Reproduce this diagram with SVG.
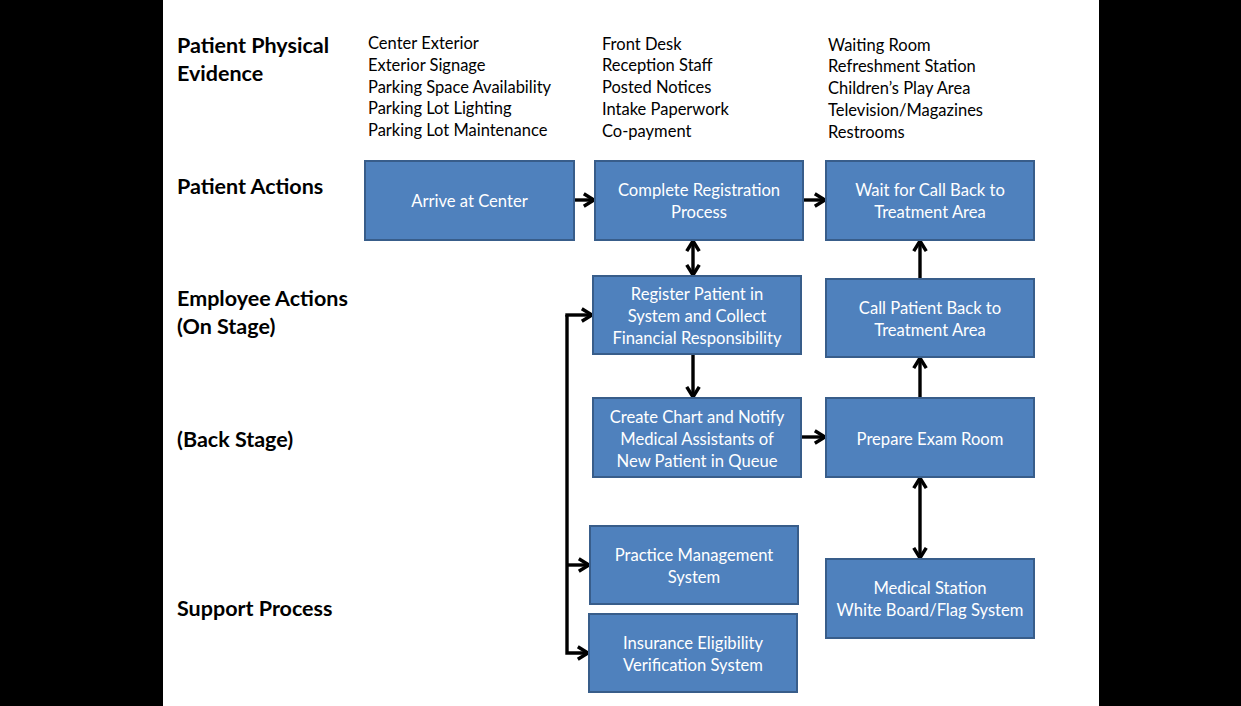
<svg xmlns="http://www.w3.org/2000/svg" width="1241" height="706" viewBox="0 0 1241 706">
<style>
.lbl{font-family:Lato,"Liberation Sans",sans-serif;font-size:21.5px;font-weight:bold;fill:#000}
.lst{font-family:Lato,"Liberation Sans",sans-serif;font-size:16.5px;fill:#000}
.box rect{fill:#4F81BD;stroke:#385D8A;stroke-width:2}
.box text{font-family:Lato,"Liberation Sans",sans-serif;font-size:16.6px;fill:#fff;text-anchor:middle}
.con path{fill:none;stroke:#000;stroke-width:3.4}
</style>
<defs>
<marker id="ah" viewBox="0 0 10 10" refX="8.5" refY="5" markerWidth="4.6" markerHeight="4.6" orient="auto-start-reverse" markerUnits="strokeWidth">
<path d="M2,1 L8.5,5 L2,9" fill="none" stroke="#000" stroke-width="2.2"/>
</marker>
</defs>
<rect x="0" y="0" width="1241" height="706" fill="#fff"/>
<rect x="0" y="0" width="163" height="706" fill="#000"/>
<rect x="1099" y="0" width="142" height="706" fill="#000"/>

<g id="row-labels">
<text class="lbl" x="177" y="53">Patient Physical</text>
<text class="lbl" x="177" y="81">Evidence</text>
<text class="lbl" x="177" y="194">Patient Actions</text>
<text class="lbl" x="177" y="306">Employee Actions</text>
<text class="lbl" x="177" y="334">(On Stage)</text>
<text class="lbl" x="177" y="447">(Back Stage)</text>
<text class="lbl" x="177" y="616">Support Process</text>
</g>

<g id="evidence-1">
<text class="lst" x="368" y="49">Center Exterior</text>
<text class="lst" x="368" y="71">Exterior Signage</text>
<text class="lst" x="368" y="92.5">Parking Space Availability</text>
<text class="lst" x="368" y="114">Parking Lot Lighting</text>
<text class="lst" x="368" y="136">Parking Lot Maintenance</text>
</g>
<g id="evidence-2">
<text class="lst" x="602" y="49.5">Front Desk</text>
<text class="lst" x="602" y="71">Reception Staff</text>
<text class="lst" x="602" y="93">Posted Notices</text>
<text class="lst" x="602" y="115">Intake Paperwork</text>
<text class="lst" x="602" y="136.5">Co-payment</text>
</g>
<g id="evidence-3">
<text class="lst" x="828" y="50.5">Waiting Room</text>
<text class="lst" x="828" y="72">Refreshment Station</text>
<text class="lst" x="828" y="94">Children’s Play Area</text>
<text class="lst" x="828" y="116">Television/Magazines</text>
<text class="lst" x="828" y="137.5">Restrooms</text>
</g>

<g class="con" id="connectors">
<path d="M574,200 H594" marker-end="url(#ah)"/>
<path d="M803,200 H825" marker-end="url(#ah)"/>
<path d="M693,241 V275" marker-start="url(#ah)" marker-end="url(#ah)"/>
<path d="M693,355 V397" marker-end="url(#ah)"/>
<path d="M801,437 H825" marker-end="url(#ah)"/>
<path d="M920,397 V358" marker-end="url(#ah)"/>
<path d="M920,278 V241" marker-end="url(#ah)"/>
<path d="M920,478 V558" marker-start="url(#ah)" marker-end="url(#ah)"/>
<path d="M567,315 V653 H588" marker-end="url(#ah)"/>
<path d="M565.3,315 H592" marker-end="url(#ah)"/>
<path d="M567,565 H589" marker-end="url(#ah)"/>
</g>

<g class="box" id="arrive">
<rect x="365" y="161" width="209" height="79"/>
<text x="469.5" y="207">Arrive at Center</text>
</g>
<g class="box" id="complete-registration">
<rect x="595" y="161" width="208" height="79"/>
<text x="699" y="196">Complete Registration</text>
<text x="699" y="218">Process</text>
</g>
<g class="box" id="wait">
<rect x="826" y="161" width="208" height="79"/>
<text x="930" y="196">Wait for Call Back to</text>
<text x="930" y="218">Treatment Area</text>
</g>
<g class="box" id="register">
<rect x="593" y="276" width="208" height="78"/>
<text x="697" y="300">Register Patient in</text>
<text x="697" y="322">System and Collect</text>
<text x="697" y="344">Financial Responsibility</text>
</g>
<g class="box" id="call-back">
<rect x="826" y="279" width="208" height="78"/>
<text x="930" y="314">Call Patient Back to</text>
<text x="930" y="336">Treatment Area</text>
</g>
<g class="box" id="create-chart">
<rect x="593" y="398" width="208" height="79"/>
<text x="697" y="423">Create Chart and Notify</text>
<text x="697" y="445">Medical Assistants of</text>
<text x="697" y="467">New Patient in Queue</text>
</g>
<g class="box" id="prepare-exam">
<rect x="826" y="398" width="208" height="79"/>
<text x="930" y="445">Prepare Exam Room</text>
</g>
<g class="box" id="practice-mgmt">
<rect x="590" y="526" width="208" height="78"/>
<text x="694" y="561">Practice Management</text>
<text x="694" y="583">System</text>
</g>
<g class="box" id="insurance">
<rect x="589" y="614" width="208" height="78"/>
<text x="693" y="649">Insurance Eligibility</text>
<text x="693" y="671">Verification System</text>
</g>
<g class="box" id="medical-station">
<rect x="826" y="559" width="208" height="79"/>
<text x="930" y="594">Medical Station</text>
<text x="930" y="616">White Board/Flag System</text>
</g>
</svg>
